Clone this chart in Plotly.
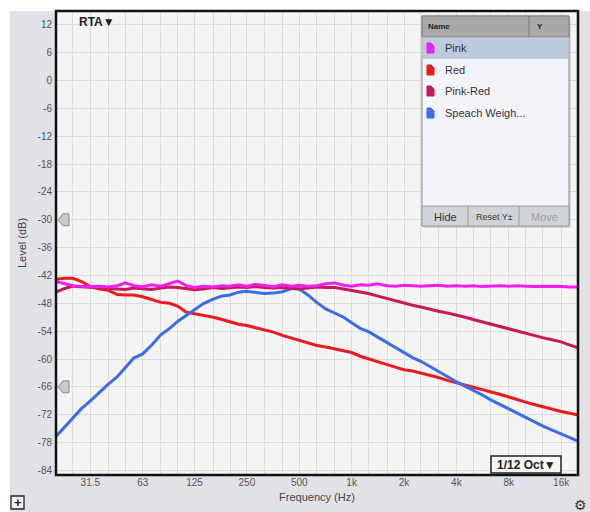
import plotly.graph_objects as go

# ---------------- data ----------------
freq_hz = [20, 22.4, 25, 28, 31.5, 35.5, 40, 45, 50, 56, 63, 71, 80, 90, 100, 112, 125, 140,
           160, 180, 200, 224, 250, 280, 315, 355, 400, 450, 500, 560, 630, 710, 800, 900,
           1000, 1120, 1250, 1400, 1600, 1800, 2000, 2240, 2500, 2800, 3150, 3550, 4000,
           4500, 5000, 5600, 6300, 7100, 8000, 9000, 10000, 11200, 12500, 14000, 16000,
           18000, 20000]

pink = [-43.3, -43.8, -44.2, -44.4, -44.4, -44.3, -44.5, -44.2, -43.6, -44.2, -44.4, -44.0,
        -44.3, -43.7, -43.2, -44.2, -44.6, -44.3, -44.5, -44.2, -44.3, -44.0, -44.3, -43.9,
        -44.2, -44.4, -44.0, -44.3, -44.1, -44.3, -44.2, -43.8, -43.6, -44.1, -44.3, -44.0,
        -44.1, -43.8, -44.2, -44.3, -44.1, -44.2, -44.3, -44.2, -44.1, -44.3, -44.2, -44.3,
        -44.2, -44.4, -44.3, -44.2, -44.3, -44.2, -44.3, -44.4, -44.3, -44.3, -44.4, -44.5,
        -44.5]

red = [-42.8, -42.6, -42.6, -43.3, -44.4, -44.9, -45.2, -46.1, -46.2, -46.2, -46.6, -47.2,
       -47.8, -48.0, -48.6, -49.9, -50.2, -50.6, -51.0, -51.5, -52.0, -52.5, -52.8, -53.3,
       -53.7, -54.2, -54.9, -55.5, -55.9, -56.6, -57.1, -57.4, -57.8, -58.2, -58.6, -59.4,
       -60.0, -60.5, -61.2, -61.8, -62.3, -62.6, -63.0, -63.5, -64.0, -64.6, -65.1, -65.6,
       -66.0, -66.5, -67.0, -67.6, -68.2, -68.7, -69.3, -69.8, -70.3, -70.8, -71.3, -71.7,
       -72.1]

pink_red = [-45.6, -44.8, -44.3, -44.4, -44.5, -44.6, -44.8, -44.9, -45.0, -44.7, -44.8,
            -45.0, -44.7, -44.5, -44.6, -44.9, -45.1, -44.9, -44.6, -44.8, -44.6, -44.5,
            -44.6, -44.4, -44.6, -44.7, -44.6, -44.8, -44.9, -44.7, -44.5, -44.6, -44.6,
            -44.9, -45.2, -45.5, -45.9, -46.4, -47.0, -47.5, -47.9, -48.4, -48.8, -49.3,
            -49.7, -50.1, -50.5, -51.0, -51.5, -52.0, -52.5, -53.0, -53.5, -54.0, -54.4,
            -54.9, -55.4, -55.8, -56.3, -57.0, -57.6]

speech = [-76.7, -74.6, -72.6, -70.7, -69.0, -67.1, -65.4, -63.8, -61.8, -59.8, -58.9, -57.0,
          -54.8, -53.4, -51.9, -50.6, -49.3, -48.1, -47.1, -46.4, -46.2, -45.6, -45.4, -45.6,
          -45.9, -45.8, -45.5, -44.8, -44.9, -46.2, -47.8, -49.2, -50.1, -51.0, -52.2, -53.4,
          -54.1, -55.2, -56.4, -57.6, -58.7, -59.7, -60.5, -61.6, -62.6, -63.8, -64.9, -65.9,
          -66.7, -67.7, -68.8, -69.8, -70.8, -71.7, -72.6, -73.5, -74.4, -75.2, -76.2, -77.0,
          -77.7]

series_names = ["Pink", "Red", "Pink-Red", "Speach Weigh..."]
series_colors = ["#f01ef0", "#ee1a1a", "#c8185c", "#3b6ee6"]

grid_freqs = [25, 31.5, 40, 50, 63, 80, 100, 125, 160, 200, 250, 315, 400, 500, 630, 800,
              1000, 1250, 1600, 2000, 2500, 3150, 4000, 5000, 6300, 8000, 10000, 12500, 16000]
grid_labels = ["", "31.5", "", "", "63", "", "", "125", "", "", "250", "", "", "500", "", "",
               "1k", "", "", "2k", "", "", "4k", "", "", "8k", "", "", "16k"]
y_ticks = [-84, -78, -72, -66, -60, -54, -48, -42, -36, -30, -24, -18, -12, -6, 0, 6, 12]
y_labels = ["-84", "-78", "-72", "-66", "-60", "-54", "-48", "-42", "-36", "-30", "-24",
            "-18", "-12", "-6", "0", "6", "12"]

# ---------------- layout helpers (pixel -> paper) ----------------
W, H = 590, 512
L, R, T, B = 56, 578, 11, 475


def xp(px):
    return (px - L) / (R - L)


def yp(py):
    return (B - py) / (B - T)


FONT = "Liberation Sans, Arial, sans-serif"

fig = go.Figure()
series_data = {"Pink": pink, "Red": red, "Pink-Red": pink_red, "Speach Weigh...": speech}
draw_order = ["Red", "Speach Weigh...", "Pink-Red", "Pink"]
for name in draw_order:
    c = series_colors[series_names.index(name)]
    fig.add_trace(go.Scatter(x=freq_hz, y=series_data[name], mode="lines", name=name,
                             line=dict(color=c, width=3), showlegend=False,
                             hoverinfo="skip"))

shapes = []
ann = []

# white strips outside the gray panel (left and top)
shapes.append(dict(type="rect", xref="paper", yref="paper", layer="below",
                   x0=xp(-5), x1=xp(10), y0=yp(520), y1=yp(-5),
                   fillcolor="#ffffff", line=dict(width=0)))
shapes.append(dict(type="rect", xref="paper", yref="paper", layer="below",
                   x0=xp(-5), x1=xp(600), y0=yp(11), y1=yp(-5),
                   fillcolor="#ffffff", line=dict(width=0)))
# plot frame
shapes.append(dict(type="rect", xref="paper", yref="paper", layer="above",
                   x0=0, x1=1, y0=0, y1=1, line=dict(color="#111111", width=2.5)))

# axis handles at -30 and -66
for lvl in (-30, -66):
    ymid = lvl
    d = 6 / 4.64
    path = (f"M {xp(58)},{ymid} L {xp(63)},{ymid + d} L {xp(69)},{ymid + d} "
            f"L {xp(69)},{ymid - d} L {xp(63)},{ymid - d} Z")
    shapes.append(dict(type="path", xref="paper", yref="y", path=path,
                       fillcolor="#c9c9c9", line=dict(color="#8a8a8a", width=1)))

# RTA label
ann.append(dict(text="<b>RTA▼</b>", x=xp(77), y=yp(22), xref="paper", yref="paper",
                xanchor="left", yanchor="middle", showarrow=False,
                font=dict(family=FONT, size=12, color="#222")))

# 1/12 Oct box
shapes.append(dict(type="rect", xref="paper", yref="paper",
                   x0=xp(491), x1=xp(561), y0=yp(473), y1=yp(456),
                   fillcolor="#f6f6f6", line=dict(color="#222", width=1.5)))
ann.append(dict(text="<b>1/12 Oct▼</b>", x=xp(526), y=yp(464.5), xref="paper", yref="paper",
                xanchor="center", yanchor="middle", showarrow=False,
                font=dict(family=FONT, size=12, color="#222")))

# plus box bottom-left
shapes.append(dict(type="rect", xref="paper", yref="paper",
                   x0=xp(11), x1=xp(24), y0=yp(509), y1=yp(496),
                   fillcolor="#f4f4f4", line=dict(color="#222", width=1.3)))
ann.append(dict(text="<b>+</b>", x=xp(17.5), y=yp(502.5), xref="paper", yref="paper",
                xanchor="center", yanchor="middle", showarrow=False,
                font=dict(family=FONT, size=13, color="#222")))
# gear
ann.append(dict(text="⚙", x=xp(589), y=yp(505), xref="paper", yref="paper",
                xanchor="right", yanchor="middle", showarrow=False,
                font=dict(family="DejaVu Sans", size=14, color="#333")))

# ---- legend panel ----
PL, PR, PT, PB = 422, 569, 16, 226
shapes.append(dict(type="rect", xref="paper", yref="paper",
                   x0=xp(PL + 2), x1=xp(PR + 2), y0=yp(PB + 2), y1=yp(PT + 2),
                   fillcolor="rgba(0,0,0,0.10)", line=dict(width=0)))
shapes.append(dict(type="rect", xref="paper", yref="paper",
                   x0=xp(PL), x1=xp(PR), y0=yp(PB), y1=yp(PT),
                   fillcolor="#f3f4fa", line=dict(color="#8e8e8e", width=1)))
# header
shapes.append(dict(type="rect", xref="paper", yref="paper",
                   x0=xp(PL), x1=xp(PR), y0=yp(37), y1=yp(PT),
                   fillcolor="#a9a9a9", line=dict(color="#7a7a7a", width=1)))
shapes.append(dict(type="line", xref="paper", yref="paper",
                   x0=xp(529), x1=xp(529), y0=yp(37), y1=yp(PT),
                   line=dict(color="#7a7a7a", width=1)))
ann.append(dict(text="<b>Name</b>", x=xp(426), y=yp(27), xref="paper", yref="paper",
                xanchor="left", yanchor="middle", showarrow=False,
                font=dict(family=FONT, size=8, color="#222")))
ann.append(dict(text="<b>Y</b>", x=xp(535), y=yp(27), xref="paper", yref="paper",
                xanchor="left", yanchor="middle", showarrow=False,
                font=dict(family=FONT, size=8, color="#222")))
# selected row
shapes.append(dict(type="rect", xref="paper", yref="paper",
                   x0=xp(PL + 1), x1=xp(PR - 1), y0=yp(59), y1=yp(38),
                   fillcolor="#bdcbdd", line=dict(width=0)))
row_y = [48, 70, 91, 113]
for name, c, ry in zip(series_names, series_colors, row_y):
    x0, x1 = 427, 434
    y0, y1 = ry - 5, ry + 5
    path = (f"M {xp(x0)},{yp(y1)} L {xp(x0)},{yp(y0)} L {xp(x1 - 3)},{yp(y0)} "
            f"L {xp(x1)},{yp(y0 + 3)} L {xp(x1)},{yp(y1)} Z")
    shapes.append(dict(type="path", xref="paper", yref="paper", path=path,
                       fillcolor=c, line=dict(color=c, width=1)))
    ann.append(dict(text=name, x=xp(443), y=yp(ry), xref="paper", yref="paper",
                    xanchor="left", yanchor="middle", showarrow=False,
                    font=dict(family=FONT, size=11, color="#333")))
# buttons
shapes.append(dict(type="rect", xref="paper", yref="paper",
                   x0=xp(PL), x1=xp(PR), y0=yp(PB), y1=yp(206),
                   fillcolor="#d0d4d9", line=dict(color="#9a9a9a", width=1)))
for bx in (468, 519):
    shapes.append(dict(type="line", xref="paper", yref="paper",
                       x0=xp(bx), x1=xp(bx), y0=yp(PB), y1=yp(206),
                       line=dict(color="#9a9a9a", width=1)))
for txt, bx, col, sz in (("Hide", 445, "#333", 11), ("Reset Y±", 494, "#333", 9),
                         ("Move", 544, "#a0a0a0", 11)):
    ann.append(dict(text=txt, x=xp(bx), y=yp(216.5), xref="paper", yref="paper",
                    xanchor="center", yanchor="middle", showarrow=False,
                    font=dict(family=FONT, size=sz, color=col)))

fig.update_layout(
    width=W, height=H,
    margin=dict(l=L, r=W - R, t=T, b=H - B),
    paper_bgcolor="#e1e2e7",
    plot_bgcolor="#f4f4f4",
    shapes=shapes,
    annotations=ann,
    hovermode=False,
    xaxis=dict(type="log", range=[1.30103, 4.30103],
               tickmode="array", tickvals=grid_freqs, ticktext=grid_labels,
               showgrid=True, gridcolor="#dcdcdc", gridwidth=1,
               zeroline=False, showline=False, ticks="",
               tickfont=dict(family=FONT, size=10, color="#555"),
               title=dict(text="Frequency (Hz)", standoff=6,
                          font=dict(family=FONT, size=11, color="#444"))),
    yaxis=dict(range=[-85, 15], tickmode="array", tickvals=y_ticks, ticktext=y_labels,
               showgrid=True, gridcolor="#dcdcdc", gridwidth=1,
               zeroline=False, showline=False, ticks="",
               tickfont=dict(family=FONT, size=10, color="#555"),
               ticklabelstandoff=3,
               title=dict(text="Level (dB)", standoff=8,
                          font=dict(family=FONT, size=11, color="#444"))),
)

fig.write_html("out.html")
